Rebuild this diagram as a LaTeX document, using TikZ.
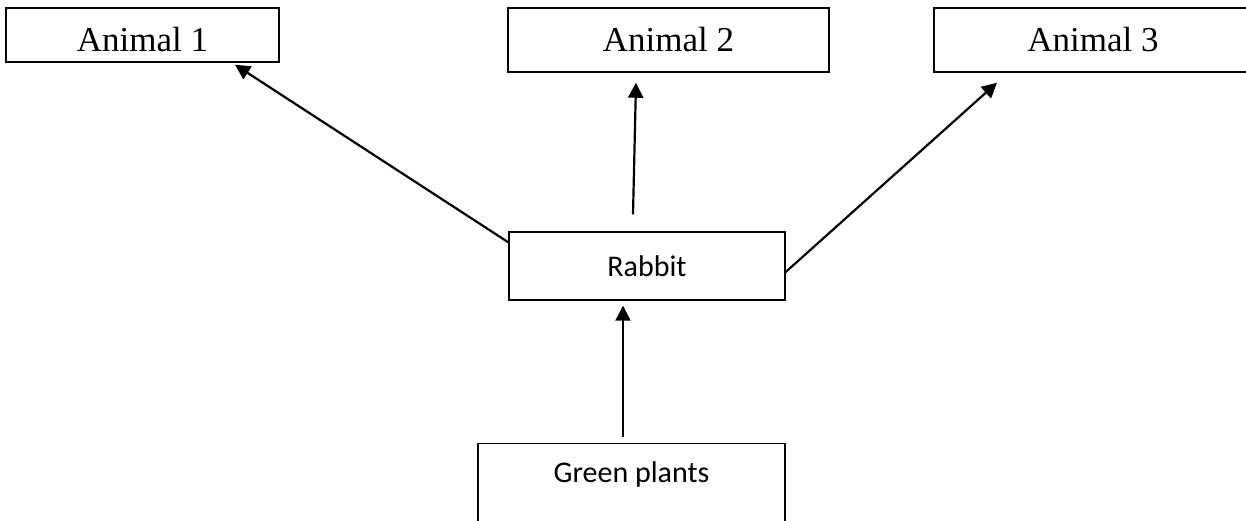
\documentclass[tikz,border=0pt]{standalone}
\usepackage{fontspec}
\setmainfont{Liberation Serif}
\newfontfamily\calibrifont{Carlito}
\usetikzlibrary{arrows.meta}

\begin{document}
\begin{tikzpicture}
[
x=1pt,y=-1pt,
animal/.style 2 args={draw,rectangle,line width=1.4pt,inner sep=0pt,minimum width=#1,minimum height=#2,font=\fontsize{35}{42}\selectfont},
food/.style={draw,rectangle,line width=1.4pt,inner sep=0pt,minimum width=#1,font=\calibrifont\fontsize{30}{36}\selectfont},
feeds/.style={line width=2.2pt,-{Triangle[length=15pt,width=15pt]}},
]
\useasboundingbox (0,0) rectangle (1246,520);
\clip (0,0) rectangle (1246,520);

%Place the nodes
\node[animal={273pt}{54pt},text height=32pt,text depth=0pt] (a1) at (142.5,35) {Animal 1};		%left
\node[animal={321pt}{64pt}] (a2) at (668.5,40) {Animal 2};		%middle
\node[animal={318pt}{64pt}] (a3) at (1093,40) {Animal 3};		%right, runs off the page
\node[food=276pt,minimum height=68pt] (r) at (647,266) {Rabbit};
\node[food=307pt,text height=39pt,text depth=60pt,anchor=north] (g) at (631.5,443) {Green plants};

%connections
%plants eaten by rabbit
\draw[feeds] ([xshift=-8.5pt,yshift=6pt]g.north) to ([xshift=-24pt,yshift=-5pt]r.south);
%rabbit eaten by animals
\draw[feeds] ([yshift=-11pt]r.north west) to ([xshift=92.5pt,yshift=-2pt]a1.south);
\draw[feeds] ([xshift=-14pt,yshift=17pt]r.north) to ([xshift=-32.5pt,yshift=-10pt]a2.south);
\draw[feeds] ([yshift=-6pt]r.east) to ([xshift=-96pt,yshift=-10pt]a3.south);
\end{tikzpicture}
\end{document}
